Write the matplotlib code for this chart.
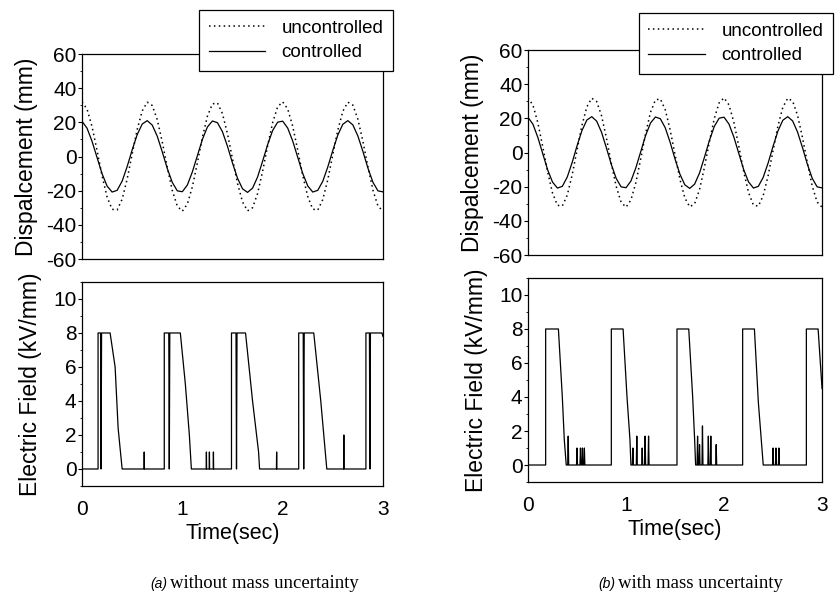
import matplotlib
matplotlib.use("Agg")
import matplotlib.pyplot as plt
from matplotlib.ticker import MultipleLocator

plt.rcParams['font.family'] = ['Liberation Sans', 'DejaVu Sans']
plt.rcParams['axes.unicode_minus'] = False

# displacement, read every 0.05 s (same shape in both cases)
t_disp = [round(0.05 * i, 2) for i in range(61)]
disp_ctl = [20.6, 16.6, 8.9, -0.6, -10.1, -17.3, -20.8, -19.8, -14.4, -5.9,
            3.9, 12.8, 19.0, 21.0, 18.4, 11.9, 2.7, -7.0, -15.2, -20.1,
            -20.6, -16.7, -9.0, 0.5, 10.0, 17.3, 20.8, 19.8, 14.5, 6.0,
            -3.8, -12.7, -18.9, -21.0, -18.5, -12.0, -2.8, 6.9, 15.2, 20.1,
            20.7, 16.7, 9.1, -0.4, -9.9, -17.2, -20.8, -19.8, -14.5, -6.1,
            3.6, 12.6, 18.9, 21.0, 18.5, 12.0, 3.0, -6.8, -15.1, -20.1, -20.7]
disp_unc = [32.0, 27.8, 17.5, 3.5, -11.3, -23.7, -30.9, -31.3, -25.0, -13.2,
            1.5, 15.8, 26.7, 31.8, 29.9, 21.6, 8.5, -6.4, -19.9, -29.1,
            -32.0, -27.8, -17.7, -3.7, 11.2, 23.6, 30.8, 31.4, 25.1, 13.3,
            -1.3, -15.7, -26.6, -31.8, -30.0, -21.7, -8.7, 6.2, 19.8, 29.1,
            32.0, 27.9, 17.8, 3.8, -11.0, -23.4, -30.8, -31.4, -25.2, -13.5,
            1.1, 15.5, 26.5, 31.8, 30.1, 21.8, 8.9, -6.0, -19.7, -29.0, -32.0]

# electric field (time, kV/mm) - without mass uncertainty
field_a = [(0, 0), (0.16, 0), (0.16, 8), (0.185, 8), (0.19, 0), (0.195, 8),
           (0.28, 8), (0.33, 6), (0.36, 2.4), (0.40, 0), (0.618, 0), (0.62, 1),
           (0.622, 0), (0.82, 0), (0.82, 8), (0.865, 8), (0.87, 0), (0.875, 8),
           (0.98, 8), (1.03, 5), (1.07, 2), (1.09, 0), (1.238, 0), (1.24, 1),
           (1.242, 0), (1.268, 0), (1.27, 1), (1.272, 0), (1.308, 0), (1.31, 1),
           (1.312, 0), (1.49, 0), (1.49, 8), (1.535, 8), (1.54, 0), (1.545, 8),
           (1.63, 8), (1.70, 4), (1.76, 1), (1.77, 0), (1.938, 0), (1.94, 1),
           (1.942, 0), (2.16, 0), (2.16, 8), (2.205, 8), (2.21, 0), (2.215, 8),
           (2.31, 8), (2.38, 4), (2.44, 0), (2.608, 0), (2.61, 2), (2.612, 0),
           (2.83, 0), (2.83, 8), (2.865, 8), (2.87, 0), (2.875, 8), (2.99, 8),
           (3.0, 7.8)]

# electric field - with mass uncertainty
field_b = [(0, 0), (0.18, 0), (0.18, 8), (0.31, 8), (0.35, 4), (0.37, 1.5),
           (0.39, 0), (0.405, 0), (0.41, 1.7), (0.415, 0), (0.495, 0), (0.50, 1),
           (0.505, 0), (0.53, 0), (0.535, 1), (0.54, 0), (0.55, 0), (0.555, 1),
           (0.56, 0), (0.57, 0), (0.575, 1), (0.58, 0), (0.85, 0), (0.85, 8),
           (0.97, 8), (1.01, 4), (1.04, 1.5), (1.05, 0), (1.065, 0), (1.07, 1),
           (1.075, 0), (1.105, 0), (1.11, 1.7), (1.115, 0), (1.16, 0), (1.165, 1),
           (1.17, 0), (1.19, 0), (1.195, 1.7), (1.20, 0), (1.225, 0), (1.23, 1.7),
           (1.235, 0), (1.52, 0), (1.52, 8), (1.64, 8), (1.68, 4), (1.70, 1.5),
           (1.71, 0), (1.725, 0), (1.73, 1.7), (1.735, 0), (1.745, 0), (1.75, 1.2),
           (1.755, 0), (1.775, 0), (1.78, 2.3), (1.785, 0), (1.835, 0), (1.84, 1.7),
           (1.845, 0), (1.86, 0), (1.865, 1.7), (1.87, 0), (1.915, 0), (1.92, 1.2),
           (1.925, 0), (2.19, 0), (2.19, 8), (2.31, 8), (2.35, 3.7), (2.40, 0),
           (2.495, 0), (2.50, 1), (2.505, 0), (2.525, 0), (2.53, 1), (2.535, 0),
           (2.555, 0), (2.56, 1), (2.565, 0), (2.84, 0), (2.84, 8), (2.96, 8),
           (3.0, 4.5)]

captions = ["without mass uncertainty", "with mass uncertainty"]
tags = ["(a)", "(b)"]


def style(ax):
    for s in ax.spines.values():
        s.set_linewidth(0.9)
    ax.tick_params(axis='y', direction='out', length=3, width=0.8, pad=1, labelsize=15)
    ax.tick_params(axis='y', which='minor', direction='out', length=1.5, width=0.6)
    ax.tick_params(axis='x', length=0, pad=10, labelsize=15)


fig = plt.figure(figsize=(8.36, 5.95), dpi=100)

cols = [
    dict(left=0.0981, width=0.360, top_b=0.5647, bot_b=0.1832, field=field_a,
         leg=(0.470, 0.983), cap_x=0.2033, tag_x=0.180),
    dict(left=0.6316, width=0.3517, top_b=0.5714, bot_b=0.1899, field=field_b,
         leg=(0.996, 0.978), cap_x=0.7392, tag_x=0.716),
]

for i, c in enumerate(cols):
    ax1 = fig.add_axes([c['left'], c['top_b'], c['width'], 0.3445])
    ax1.plot(t_disp, disp_unc, color='black', lw=1.1, linestyle=(0, (1, 2.2)), label='uncontrolled')
    ax1.plot(t_disp, disp_ctl, color='black', lw=0.9, label='controlled')
    ax1.set_xlim(0, 3)
    ax1.set_ylim(-60, 60)
    ax1.yaxis.set_major_locator(MultipleLocator(20))
    ax1.yaxis.set_minor_locator(MultipleLocator(10))
    ax1.set_xticks([])
    ax1.set_ylabel("Dispalcement (mm)", fontsize=16.5, labelpad=6)
    style(ax1)
    leg = ax1.legend(loc='upper right', bbox_to_anchor=c['leg'], bbox_transform=fig.transFigure,
                     fontsize=13.5, fancybox=False, framealpha=1, edgecolor='black',
                     handlelength=3.0, borderpad=0.5, labelspacing=0.4, handletextpad=0.9,
                     borderaxespad=0)
    leg.get_frame().set_linewidth(0.9)

    ax2 = fig.add_axes([c['left'], c['bot_b'], c['width'], 0.3429])
    ft = [p[0] for p in c['field']]
    fv = [p[1] for p in c['field']]
    ax2.plot(ft, fv, color='black', lw=0.9)
    ax2.set_xlim(0, 3)
    ax2.set_ylim(-1, 11)
    ax2.set_xticks([0, 1, 2, 3])
    ax2.yaxis.set_major_locator(MultipleLocator(2))
    ax2.yaxis.set_minor_locator(MultipleLocator(1))
    ax2.set_ylabel("Electric Field (kV/mm)", fontsize=16.5, labelpad=8)
    ax2.set_xlabel("Time(sec)", fontsize=15.5, labelpad=3)
    style(ax2)

    fig.text(c['tag_x'], 0.012, tags[i], fontsize=10, style='italic', ha='left', va='baseline')
    fig.text(c['cap_x'], 0.012, captions[i], fontsize=13.5, family='Liberation Serif',
             ha='left', va='baseline')

fig.savefig("out.png", dpi=100)
